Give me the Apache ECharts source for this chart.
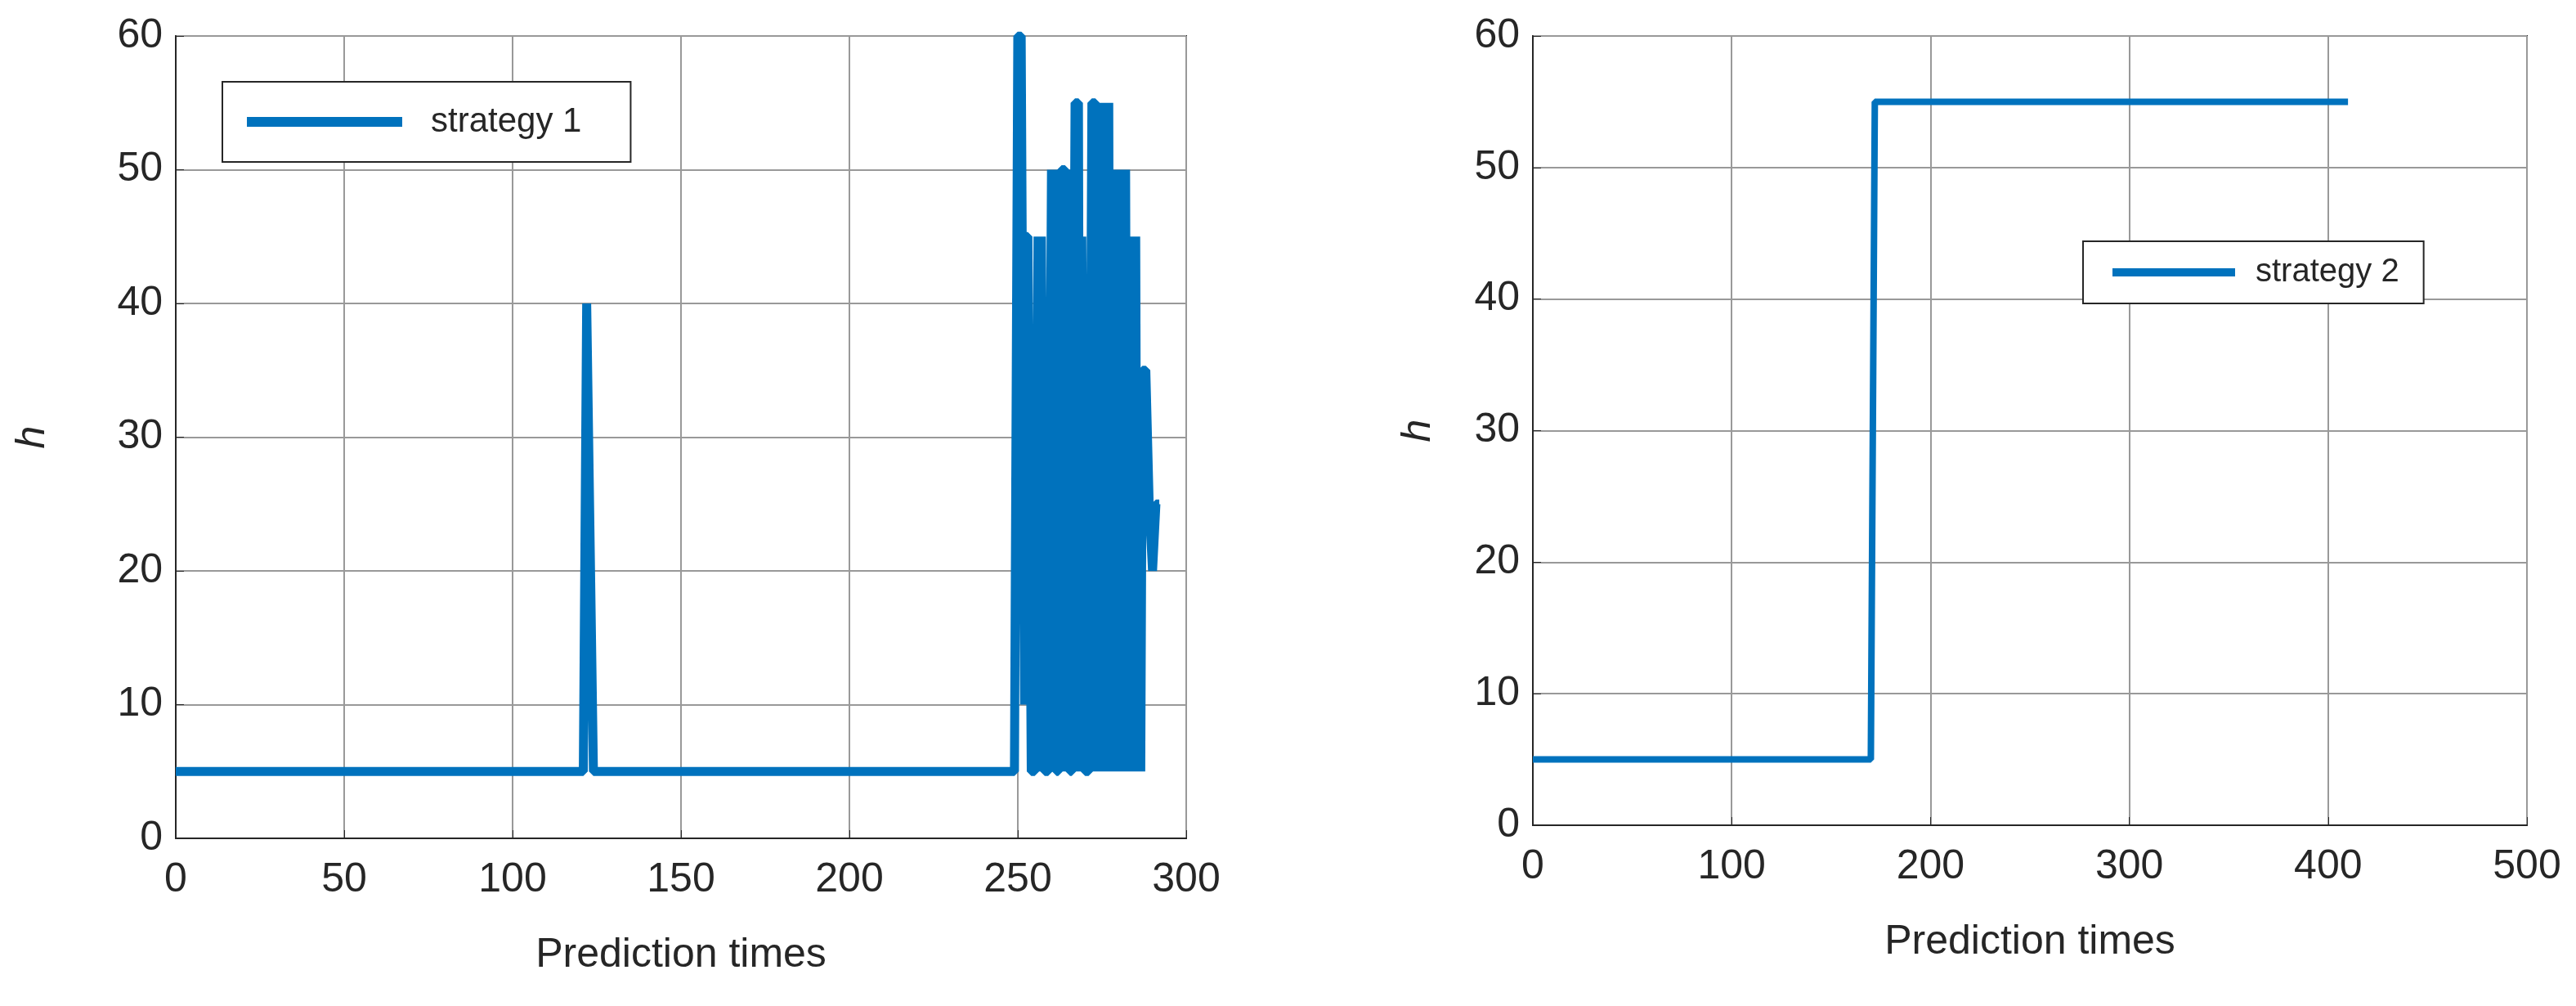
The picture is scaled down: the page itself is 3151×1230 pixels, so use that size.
<!DOCTYPE html>
<html>
<head>
<meta charset="utf-8">
<script src="https://cdn.jsdelivr.net/npm/echarts@6/dist/echarts.min.js"></script>
<style>
  html, body { margin: 0; padding: 0; background: #fff; }
  #chart { width: 3151px; height: 1230px; }
</style>
</head>
<body>
<div id="chart"></div>
<script>
// strategy 1 (left panel)
const leftX = [0, 121, 122, 124, 249, 250, 251, 252, 252.5, 253, 254, 255, 256, 256.5, 257, 258, 259, 260, 260.5, 261, 261.5, 262, 263, 264, 264.5, 265, 265.5, 266, 267, 268, 268.5, 269, 270, 271, 272, 273, 273.5, 274, 274.5, 275, 275.5, 276, 276.5, 277, 277.5, 278, 278.5, 279, 279.5, 280, 280.5, 281, 281.5, 282, 282.5, 283, 283.5, 284, 284.5, 285, 285.5, 286, 286.5, 287, 288, 289, 290, 291, 292];
const leftY = [5, 5, 40, 5, 5, 60, 60, 10, 45, 45, 5, 5, 45, 5, 45, 5, 5, 50, 5, 50, 5, 5, 50, 50, 5, 50, 5, 5, 55, 55, 5, 45, 5, 5, 55, 55, 5, 55, 5, 55, 5, 55, 5, 55, 5, 50, 5, 50, 5, 50, 5, 50, 5, 50, 5, 45, 5, 45, 5, 45, 5, 35, 5, 35, 35, 25, 20, 25, 25];
// strategy 2 (right panel)
const rightX = [0, 170, 172, 410];
const rightY = [5, 5, 55, 55];

const lineColor = '#0072BD';
const font = 'Liberation Sans, Arial, sans-serif';

function pairs(xs, ys) {
    return xs.map((x, i) => [x, ys[i]]);
}

function xAxis(idx, max, step) {
    return {
        gridIndex: idx, type: 'value', min: 0, max: max, interval: step,
        name: 'Prediction times', nameLocation: 'middle', nameGap: 118,
        nameTextStyle: { fontSize: 50, color: '#262626', fontFamily: font },
        axisLine: { show: true, lineStyle: { color: '#262626', width: 2 } },
        axisTick: { show: true, inside: true, length: 10, lineStyle: { color: '#262626' } },
        axisLabel: { fontSize: 50, color: '#262626', margin: 26, fontFamily: font },
        splitLine: { show: true, lineStyle: { color: '#999', width: 2 } }
    };
}

function yAxis(idx, gap) {
    return {
        gridIndex: idx, type: 'value', min: 0, max: 60, interval: 10,
        name: 'h', nameLocation: 'middle', nameGap: gap, nameRotate: 90,
        nameTextStyle: { fontSize: 50, color: '#262626', fontStyle: 'italic', fontFamily: font },
        axisLine: { show: true, lineStyle: { color: '#262626', width: 2 } },
        axisTick: { show: true, inside: true, length: 10, lineStyle: { color: '#262626' } },
        axisLabel: { fontSize: 50, color: '#262626', margin: 16, fontFamily: font },
        splitLine: { show: true, lineStyle: { color: '#999', width: 2 } }
    };
}

const chart = echarts.init(document.getElementById('chart'));
chart.setOption({
    animation: false,
    backgroundColor: '#fff',
    grid: [
        { left: 215, top: 44, width: 1236, height: 981, show: true, borderColor: '#262626', borderWidth: 2 },
        { left: 1875, top: 44, width: 1216, height: 965, show: true, borderColor: '#262626', borderWidth: 2 }
    ],
    xAxis: [xAxis(0, 300, 50), xAxis(1, 500, 100)],
    yAxis: [yAxis(0, 150), yAxis(1, 115)],
    legend: [
        {
            data: ['strategy 1'], left: 272, top: 100,
            padding: [28, 60, 28, 30], itemWidth: 190, itemHeight: 12,
            borderColor: '#262626', borderWidth: 2, backgroundColor: '#fff',
            textStyle: { fontSize: 42, color: '#262626', fontFamily: font, padding: [0, 0, 0, 30] },
            icon: 'rect'
        },
        {
            data: ['strategy 2'], left: 2548, top: 295,
            padding: [18, 30, 18, 36], itemWidth: 150, itemHeight: 10,
            borderColor: '#262626', borderWidth: 2, backgroundColor: '#fff',
            textStyle: { fontSize: 40, color: '#262626', fontFamily: font, padding: [0, 0, 0, 20] },
            icon: 'rect'
        }
    ],
    series: [
        {
            name: 'strategy 1', type: 'line', xAxisIndex: 0, yAxisIndex: 0,
            data: pairs(leftX, leftY), showSymbol: false,
            lineStyle: { color: lineColor, width: 11 }, itemStyle: { color: lineColor }
        },
        {
            name: 'strategy 2', type: 'line', xAxisIndex: 1, yAxisIndex: 1,
            data: pairs(rightX, rightY), showSymbol: false,
            lineStyle: { color: lineColor, width: 8 }, itemStyle: { color: lineColor }
        }
    ]
});
window.addEventListener('resize', () => chart.resize());
</script>
</body>
</html>
